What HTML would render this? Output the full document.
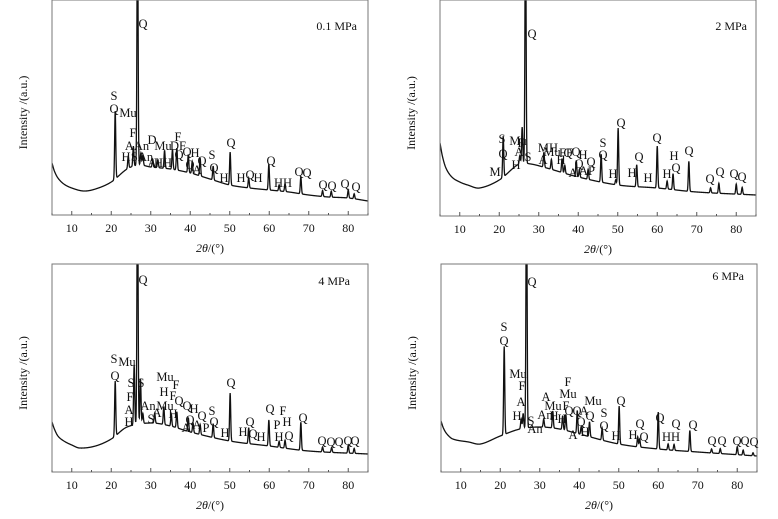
<!DOCTYPE html>
<html><head><meta charset="utf-8"><style>
html,body{margin:0;padding:0;background:#fff;}
svg{display:block;font-family:"Liberation Serif",serif;}
</style></head><body>
<svg id="chart" width="778" height="519" viewBox="0 0 778 519" xmlns="http://www.w3.org/2000/svg"></svg>
<script>
// ---- data (2θ, intensity) ----
const xTicks = [10,20,30,40,50,60,70,80];
const panelTitles = ["0.1 MPa","2 MPa","4 MPa","6 MPa"];
const base1 = [[5,52],[5.6,44],[6.5,37],[8,31],[10,27],[13,24],[16,26],[20,33],[24,46],[27,50],[30,48],[35,46],[40,42],[45,36],[50,30],[55,27],[60,25],[65,23],[70,20],[75,18],[80,17],[85,14]];
const peaks1 = [[21,68],[24.3,12],[25.6,20],[26.65,260],[27.5,12],[28,10],[30.5,8],[31.8,8],[33.5,18],[35.5,20],[36.6,22],[39.5,18],[40.5,12],[42.5,18],[45.8,14],[50.1,33],[54.8,10],[59.9,26],[62.5,6],[64,8],[68,17],[73.5,6],[75.7,6],[80,8],[81.5,5]];
const base2 = [[5,73],[5.6,60],[6.5,48],[8,39],[10,34],[12,31],[15,28],[20,36],[25,52],[28,52],[32,48],[40,39],[50,31],[60,28],[70,24],[85,21]];
const peaks2 = [[21,41],[25.2,8],[25.8,36],[26.65,260],[31.3,15],[33.2,10],[35.9,14],[36.6,8],[39.5,16],[40.3,8],[42.5,10],[45.8,28],[49.5,5],[50.1,57],[54.8,22],[60,42],[62.5,8],[64,16],[68,30],[73.5,5],[75.6,10],[80,10],[81.5,7]];
const base3 = [[5,50],[5.6,43],[6.5,36],[8,31],[10,27],[12,24],[16,26],[20,33],[24,45],[30,49],[35,46],[40,40],[50,31],[60,26],[70,21],[85,18]];
const peaks3 = [[21,55],[25.8,60],[26.65,260],[27.4,45],[28,10],[31,10],[33.3,18],[35.2,12],[36.6,16],[39.5,14],[40.7,10],[42.5,10],[45.8,14],[50.1,48],[54.8,16],[59.9,26],[62.5,6],[64,8],[68,28],[73.5,5],[75.8,5],[80,8],[81.5,5]];
const base4 = [[5,51],[5.6,44],[6.5,38],[8,33],[12,30],[15,28],[20,36],[25,43],[30,45],[35,43],[40,38],[50,28],[60,23],[70,20],[85,16]];
const peaks4 = [[21,88],[25.3,10],[25.8,15],[26.65,260],[31,8],[33.3,17],[35.8,14],[36.6,16],[39.5,23],[40.5,8],[42.6,15],[45.8,12],[50.1,38],[54.8,10],[55.3,8],[60,37],[62.5,6],[64,6],[68,21],[73.5,4],[75.7,5],[80,8],[81.5,5],[84,3]];
// ---- annotation labels (text, x, y) ----
const labels1 = [["Q",143,28],["S",114,100],["Q",114,113],["Mu",128,117],["F",133,137],["AAn",137,150],["D",152,144],["Mu",163,150],["F",178,141],["DF",178,150],["H",126,161],["SAn",142,161],["A",152,167],["HH",163,167],["Q",179,159],["Q",187,156],["H",195,157],["Q",190,169],["A",197,174],["Q",202,165],["S",212,159],["Q",214,172],["Q",231,147],["H",224,182],["H",241,182],["Q",250,179],["H",258,182],["Q",271,165],["HH",283,187],["Q",299,176],["Q",307,177],["Q",323,189],["Q",332,190],["Q",345,188],["Q",356,191]];
const labels2 = [["Q",532,38],["S",502,143],["Mu",518,145],["Q",503,158],["F",521,147],["A",519,156],["H",516,169],["S",528,161],["M",495,176],["MH",548,152],["FF",566,157],["A",543,164],["Mu",552,156],["H",561,164],["Q",568,157],["Q",576,156],["H",583,159],["Q",579,168],["A",573,177],["AP",587,175],["Q",591,166],["S",603,147],["Q",603,159],["H",613,178],["Q",621,127],["H",632,177],["Q",639,161],["H",648,182],["Q",657,142],["H",667,178],["H",674,160],["Q",676,172],["Q",689,155],["Q",710,183],["Q",720,176],["Q",734,178],["Q",742,181]];
const labels3 = [["Q",143,284],["S",114,363],["Mu",127,366],["Q",115,380],["S",131,387],["S",141,387],["F",130,401],["A",129,414],["An",148,410],["A",157,417],["S",151,423],["H",129,426],["Mu",165,381],["F",176,389],["H",164,396],["F",173,400],["Mu",165,410],["Q",179,405],["Q",187,410],["H",194,413],["Q",202,420],["S",212,415],["H",173,418],["Q",190,424],["A",186,432],["A",197,429],["P",206,432],["Q",214,426],["H",225,437],["Q",231,387],["H",243,436],["Q",250,426],["Q",253,438],["H",261,441],["Q",270,413],["F",283,415],["P",277,429],["H",287,426],["H",279,441],["Q",289,440],["Q",303,422],["Q",322,445],["Q",331,446],["Q",339,446],["Q",348,445],["Q",355,445]];
const labels4 = [["Q",532,286],["S",504,331],["Q",504,345],["Mu",518,378],["F",522,390],["A",521,406],["H",517,420],["S",531,425],["An",535,433],["A",546,401],["Mu",553,410],["An",545,419],["H",554,420],["F",566,410],["H",562,423],["F",568,386],["Mu",568,398],["Q",569,415],["Q",577,415],["A",584,415],["Q",590,420],["Mu",593,405],["Q",581,426],["H",585,436],["A",573,439],["S",604,417],["Q",604,430],["H",616,440],["Q",621,405],["H",633,439],["Q",640,428],["Q",644,441],["Q",660,422],["HH",671,441],["Q",676,428],["Q",693,429],["Q",712,445],["Q",722,445],["Q",737,445],["Q",745,445],["Q",754,446]];

const panels = [
 {title:panelTitles[0], base:base1, peaks:peaks1, labels:labels1, l:52, r:368, t:0, b:215, tx:357, ty:30},
 {title:panelTitles[1], base:base2, peaks:peaks2, labels:labels2, l:440, r:756, t:0, b:216, tx:747, ty:30},
 {title:panelTitles[2], base:base3, peaks:peaks3, labels:labels3, l:52, r:368, t:264, b:472, tx:350, ty:285},
 {title:panelTitles[3], base:base4, peaks:peaks4, labels:labels4, l:441, r:757, t:264, b:472, tx:744, ty:280}
];
const NS="http://www.w3.org/2000/svg";
const svg=document.getElementById('chart');
function mk(tag,attrs,parent){const e=document.createElementNS(NS,tag);for(const k in attrs)e.setAttribute(k,attrs[k]);(parent||svg).appendChild(e);return e;}
// Catmull-Rom smooth interpolation of baseline
function interp(arr,x){
  const n=arr.length;
  if(x<=arr[0][0])return arr[0][1];
  if(x>=arr[n-1][0])return arr[n-1][1];
  let i=0;while(i<n-2&&x>arr[i+1][0])i++;
  const p0=arr[Math.max(i-1,0)],p1=arr[i],p2=arr[i+1],p3=arr[Math.min(i+2,n-1)];
  const h=p2[0]-p1[0],t=(x-p1[0])/h;
  const m1=(p2[1]-p0[1])/(p2[0]-p0[0]||1)*h;
  const m2=(p3[1]-p1[1])/(p3[0]-p1[0]||1)*h;
  const t2=t*t,t3=t2*t;
  return (2*t3-3*t2+1)*p1[1]+(t3-2*t2+t)*m1+(-2*t3+3*t2)*p2[1]+(t3-t2)*m2;
}
panels.forEach((p,pi)=>{
  const g=mk('g',{});
  
  
  const xs=v=>p.l+(v-5)/80*(p.r-p.l);
  const ys=v=>p.b-v;
  const cid='clip'+pi;
  const cp=mk('clipPath',{id:cid},g);mk('rect',{x:p.l,y:p.t,width:p.r-p.l,height:p.b-p.t},cp);
  let d='';
  for(let x=5;x<=85.0001;x+=0.05){
    let v=interp(p.base,x);
    p.peaks.forEach(pk=>{const s=0.14;v+=pk[1]*Math.exp(-Math.pow(x-pk[0],2)/(2*s*s));});
    d+=(d?'L':'M')+xs(x).toFixed(2)+','+ys(v).toFixed(2);
  }
  const path=mk('path',{d:d,fill:'none',stroke:'#111','stroke-width':1.3,'clip-path':'url(#'+cid+')'},g);
  
  
  const fr=mk('rect',{x:p.l,y:p.t,width:p.r-p.l,height:p.b-p.t,fill:'none',stroke:'#777','stroke-width':1},g);
  
  
  for(let v=5;v<=85;v+=5){const maj=v%10===0;mk('line',{x1:xs(v),x2:xs(v),y1:p.b,y2:p.b-(maj?4:2),stroke:'#555','stroke-width':1},g);}
  xTicks.forEach(v=>{const t=mk('text',{x:xs(v),y:p.b+17,'text-anchor':'middle','font-size':12,fill:'#111'},g);t.textContent=v;
    
    });
  const xt=mk('text',{x:(p.l+p.r)/2,y:p.b+37,'text-anchor':'middle','font-size':12,fill:'#111'},g);
  xt.innerHTML='<tspan font-style="italic">2θ</tspan>/(°)';
  
  
  const cy=(p.t+p.b)/2+5;
  const yt=mk('text',{x:p.l-25,y:cy,'text-anchor':'middle','font-size':12,fill:'#111',transform:'rotate(-90 '+(p.l-25)+' '+cy+')'},g);
  yt.innerHTML='Intensity /(a.u.)';
  
  
  const tt=mk('text',{x:p.tx,y:p.ty,'text-anchor':'end','font-size':12,fill:'#111'},g);
  tt.textContent=p.title;
  
  
  p.labels.forEach(lb=>{const e=mk('text',{x:lb[1],y:lb[2],'text-anchor':'middle','font-size':12.5,fill:'#111'},g);e.textContent=lb[0];
    
    });
});
</script>
</body></html>
